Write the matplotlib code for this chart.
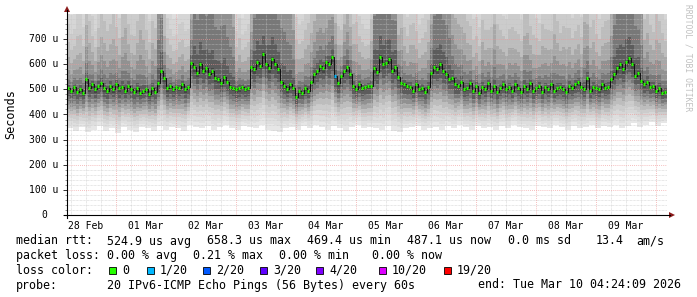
import numpy as np
import matplotlib
matplotlib.use("Agg")
import matplotlib.pyplot as plt
from matplotlib.patches import Polygon, Rectangle
from matplotlib.lines import Line2D
from matplotlib.transforms import blended_transform_factory

# ---------------- data ----------------
# time axis: hours since start (Feb 28 04:24), 200 samples of 72 min
day_labels = ["28 Feb", "01 Mar", "02 Mar", "03 Mar", "04 Mar",
              "05 Mar", "06 Mar", "07 Mar", "08 Mar", "09 Mar"]
ytick_values = [0, 100, 200, 300, 400, 500, 600, 700]
ytick_labels = ["0", "100 u", "200 u", "300 u", "400 u", "500 u", "600 u", "700 u"]

# median RTT per sample (microseconds)
median_us = [
    505, 495, 510, 490, 500, 485, 540, 505, 520, 500,
    515, 525, 505, 495, 515, 500, 520, 505, 510, 495,
    515, 500, 490, 505, 485, 495, 500, 480, 505, 490,
    525, 575, 545, 505, 515, 500, 510, 505, 520, 500,
    510, 605, 590, 565, 600, 575, 585, 560, 575, 545,
    540, 525, 550, 530, 510, 505, 500, 505, 510, 500,
    505, 590, 580, 610, 595, 640, 600, 585, 620, 600,
    580, 530, 515, 500, 520, 505, 470, 495, 485, 505,
    495, 530, 560, 575, 595, 585, 610, 600, 630, 552,
    525, 555, 575, 590, 560, 515, 500, 520, 505, 510,
    515, 515, 585, 570, 630, 600, 605, 620, 575, 590,
    550, 525, 520, 515, 510, 495, 520, 500, 505, 490,
    510, 565, 590, 580, 600, 575, 560, 540, 545, 520,
    515, 530, 500, 505, 525, 495, 515, 485, 510, 500,
    525, 495, 515, 490, 505, 520, 500, 510, 495, 520,
    505, 490, 515, 500, 525, 495, 505, 515, 490, 510,
    500, 520, 495, 505, 510, 500, 490, 515, 505, 520,
    530, 510, 500, 545, 495, 510, 505, 500, 520, 505,
    510, 540, 560, 585, 600, 580, 610, 625, 600, 555,
    565, 535, 520, 530, 510, 515, 495, 505, 485, 490,
]
# packet loss count (out of 20) per sample, only non-zero entries
loss_count = {89: 1}

# fastest ping per 2-sample block (microseconds)
low_us = [
    345, 335, 350, 330, 340, 355, 335, 345, 325, 350,
    340, 330, 350, 345, 335, 355, 340, 350, 345, 335,
    360, 350, 345, 355, 340, 350, 360, 345, 340, 355,
    350, 345, 360, 340, 335, 330, 345, 350, 340, 355,
    345, 360, 350, 340, 355, 345, 335, 350, 360, 345,
    350, 345, 340, 355, 335, 330, 345, 350, 355, 340,
    345, 350, 340, 355, 345, 360, 350, 340, 355, 345,
    350, 340, 355, 345, 360, 350, 345, 340, 355, 350,
    345, 360, 350, 340, 355, 345, 350, 360, 345, 355,
    350, 360, 345, 355, 365, 350, 360, 370, 355, 365,
]
# slowest ping per sample (microseconds, mostly beyond chart top)
high_us = [
    1050, 980, 1000, 1150, 1150, 1050, 1500, 1300, 1100, 1000, 1200, 1350,
    1300, 1200, 1250, 1400, 1200, 1100, 1400, 1600, 1250, 1150, 1150, 1300,
    1600, 1400, 1200, 1100, 1300, 1250,
    3000, 3600, 1300, 1100,
    1000, 950, 950, 1050, 1050, 1000, 1000, 1900,
    3900, 3600, 4200, 3800, 3600, 4000, 3900, 3500, 3400, 3800, 3500, 3100, 2800, 2300,
    1000, 1100, 950, 1000, 1050, 1600,
    3500, 3900, 3900, 3600, 3600, 4200, 4200, 3800, 3400, 3600, 3600, 3200, 2800, 2200,
    1150, 1050, 1100, 1200, 1300, 1400,
    1500, 1700, 1700, 1600, 1600, 1900, 1800, 1500, 1200, 1100, 1400, 1600,
    1400, 1250, 1300, 1100, 1050, 1000, 1000, 1300,
    3600, 4000, 3900, 3600, 4200, 3900, 3500, 3200,
    1300, 1500, 1200, 1100, 1250, 1300, 1150, 1050, 1100, 1200, 1300, 2000,
    3500, 3900, 3800, 3500, 3400, 2900,
    1800, 1700, 1600, 1500, 1500, 1300,
    1200, 1100, 1100, 1050, 1300, 1200, 1150, 1250, 1600, 1300, 1200, 1100,
    1100, 1200, 1250, 1150, 1150, 1100, 1400, 1500, 1200, 1150, 1100, 1050,
    1300, 1200, 1200, 1150, 1500, 1300, 1150, 1250, 1250, 1200, 1100, 1150,
    1200, 1100, 1700, 1500, 1250, 1300, 1150, 1100, 1200, 1300, 1300, 1800,
    3400, 3800, 3900, 4200, 4200, 3900, 3600, 3400, 3100, 2600,
    1300, 1400, 1250, 1150, 1400, 1300, 1200, 1100,
]

loss_colors = ["#26ff00", "#00b8ff", "#0059ff", "#5e00ff", "#7e00ff", "#dd00ff", "#ff0000"]
loss_names = ["0", "1/20", "2/20", "3/20", "4/20", "10/20", "19/20"]

# ---------------- figure ----------------
W, H = 697, 297
fig = plt.figure(figsize=(W / 100, H / 100), dpi=100)
fig.patch.set_facecolor("white")


def fx(px):
    return px / W


def fy(py):
    return 1 - py / H


MONO = "DejaVu Sans Mono"
ax = fig.add_axes([fx(67), fy(215), fx(667) - fx(67), fy(14) - fy(215)])
ax.set_facecolor("white")

n = len(median_us)
step_h = 1.2
edges = np.arange(n + 1) * step_h
med = np.array(median_us, float)
low = np.repeat(np.array(low_us, float), 2)
high = np.array(high_us, float)

# smoke: 20 ranked pings between fastest, median and slowest
r = np.arange(20)
frac = (r - 9.5) / 9.5
lower_shape = -np.abs(frac) ** 0.85
upper_shape = frac ** 2
pings = np.where(frac[None, :] < 0,
                 med[:, None] + (med - low)[:, None] * lower_shape[None, :],
                 med[:, None] + (high - med)[:, None] * upper_shape[None, :])
greys = [0.90, 0.87, 0.84, 0.80, 0.74, 0.66, 0.57, 0.47, 0.36, 0.27]
for k in range(10):
    lo = np.append(pings[:, k], pings[-1, k])
    hi = np.append(pings[:, 19 - k], pings[-1, 19 - k])
    ax.fill_between(edges, lo, hi, step="post", color=str(greys[k]),
                    lw=0, antialiased=False, zorder=1)

# grid
start_to_midnight = 19.6
minor_c, major_c = "#c4c4c4", "#f09a9a"
for h in np.arange(start_to_midnight - 18, 240, 6.0):
    q = (h - start_to_midnight) / 24
    if abs(q - round(q)) < 1e-6:
        continue
    ax.axvline(h, color=minor_c, lw=0.5, ls=(0, (1, 1)), alpha=0.8, zorder=2)
for v in range(20, 800, 20):
    if v % 100:
        ax.axhline(v, color=minor_c, lw=0.5, ls=(0, (1, 1)), alpha=0.8, zorder=2)
for d in range(10):
    ax.axvline(start_to_midnight + 24 * d, color=major_c, lw=0.6, ls=(0, (1, 1.5)), alpha=0.85, zorder=2)
for v in range(100, 800, 100):
    ax.axhline(v, color=major_c, lw=0.6, ls=(0, (1, 1.5)), alpha=0.85, zorder=2)

# median
ax.step(edges, np.append(med, med[-1]), where="post", color="#111111", lw=0.7, zorder=3)
seg_colors = []
for i in range(n):
    c = loss_count.get(i, 0)
    seg_colors.append(loss_colors[min(c, 6)] if c else loss_colors[0])
ax.hlines(med, edges[:-1] + 0.1, edges[1:] - 0.3, colors=seg_colors, lw=2.3,
          zorder=4, capstyle="butt")

ax.set_xlim(0, 240)
ax.set_ylim(0, 800)
for s in ax.spines.values():
    s.set_visible(False)

noons = start_to_midnight - 12 + 24 * np.arange(len(day_labels))
ax.set_xticks(noons)
ax.set_xticklabels(day_labels, fontsize=7, family=MONO)
ax.tick_params(axis="x", length=0, pad=4.5)
ax.set_yticks(ytick_values)
ax.set_yticklabels([])
ax.set_yticks(range(0, 800, 20), minor=True)
ax.tick_params(axis="y", which="major", length=3, width=0.7, direction="out", color="#333333")
ax.tick_params(axis="y", which="minor", length=1.5, width=0.5, direction="out", color="#666666")

trans = blended_transform_factory(fig.transFigure, ax.transData)
for v, lab in zip(ytick_values, ytick_labels):
    if lab == "0":
        ax.text(fx(44.5), v, lab, transform=trans, ha="center", va="center",
                fontsize=7, family=MONO)
    else:
        ax.text(fx(58.5), v, lab, transform=trans, ha="right", va="center",
                fontsize=7, family=MONO)

# axes lines and arrows
fig.add_artist(Line2D([fx(67), fx(67)], [fy(218), fy(10)], color="black", lw=0.8))
fig.add_artist(Line2D([fx(64), fx(670)], [fy(215), fy(215)], color="black", lw=0.8))
fig.add_artist(Polygon([[fx(67), fy(6)], [fx(64), fy(12)], [fx(70), fy(12)]],
                       closed=True, color="#8b1a1a", lw=0))
fig.add_artist(Polygon([[fx(675), fy(215)], [fx(669), fy(212)], [fx(669), fy(218)]],
                       closed=True, color="#8b1a1a", lw=0))

fig.text(fx(11), fy(114), "Seconds", rotation=90, ha="center", va="center",
         fontsize=8.5, family=MONO)
fig.text(fx(688), fy(4), "RRDTOOL / TOBI OETIKER", rotation=270, ha="center", va="top",
         fontsize=5.8, family=MONO, color="#c0c0c0")

# legend
LF = 8.4
y1, y2, y3, y4 = 241, 255.5, 270, 285
for txt, x in [("median rtt:", 16), ("524.9 us avg", 107.3), ("658.3 us max", 207.3),
               ("469.4 us min", 307.3), ("487.1 us now", 407.3), ("0.0 ms sd", 507.7),
               ("13.4", 595.7), ("am/s", 636)]:
    fig.text(fx(x), fy(y1), txt, ha="left", va="center", fontsize=LF, family=MONO)
for txt, x in [("packet loss:", 16), ("0.00 % avg", 107.3), ("0.21 % max", 193),
               ("0.00 % min", 279), ("0.00 % now", 372)]:
    fig.text(fx(x), fy(y2), txt, ha="left", va="center", fontsize=LF, family=MONO)
fig.text(fx(16), fy(y3), "loss color:", ha="left", va="center", fontsize=LF, family=MONO)
box_x = [109, 147, 203, 260, 316, 379, 444]
for bx, col, lab in zip(box_x, loss_colors, loss_names):
    fig.add_artist(Rectangle((fx(bx), fy(y3 + 4)), 7 / W, 7 / H, facecolor=col,
                             edgecolor="black", lw=0.6))
    fig.text(fx(bx + 13), fy(y3), lab, ha="left", va="center", fontsize=LF, family=MONO)
fig.text(fx(16), fy(y4), "probe:", ha="left", va="center", fontsize=LF, family=MONO)
fig.text(fx(107.3), fy(y4), "20 IPv6-ICMP Echo Pings (56 Bytes) every 60s",
         ha="left", va="center", fontsize=LF, family=MONO)
fig.text(fx(681), fy(y4), "end: Tue Mar 10 04:24:09 2026",
         ha="right", va="center", fontsize=LF, family=MONO)

fig.savefig("out.png", dpi=100, facecolor="white")
